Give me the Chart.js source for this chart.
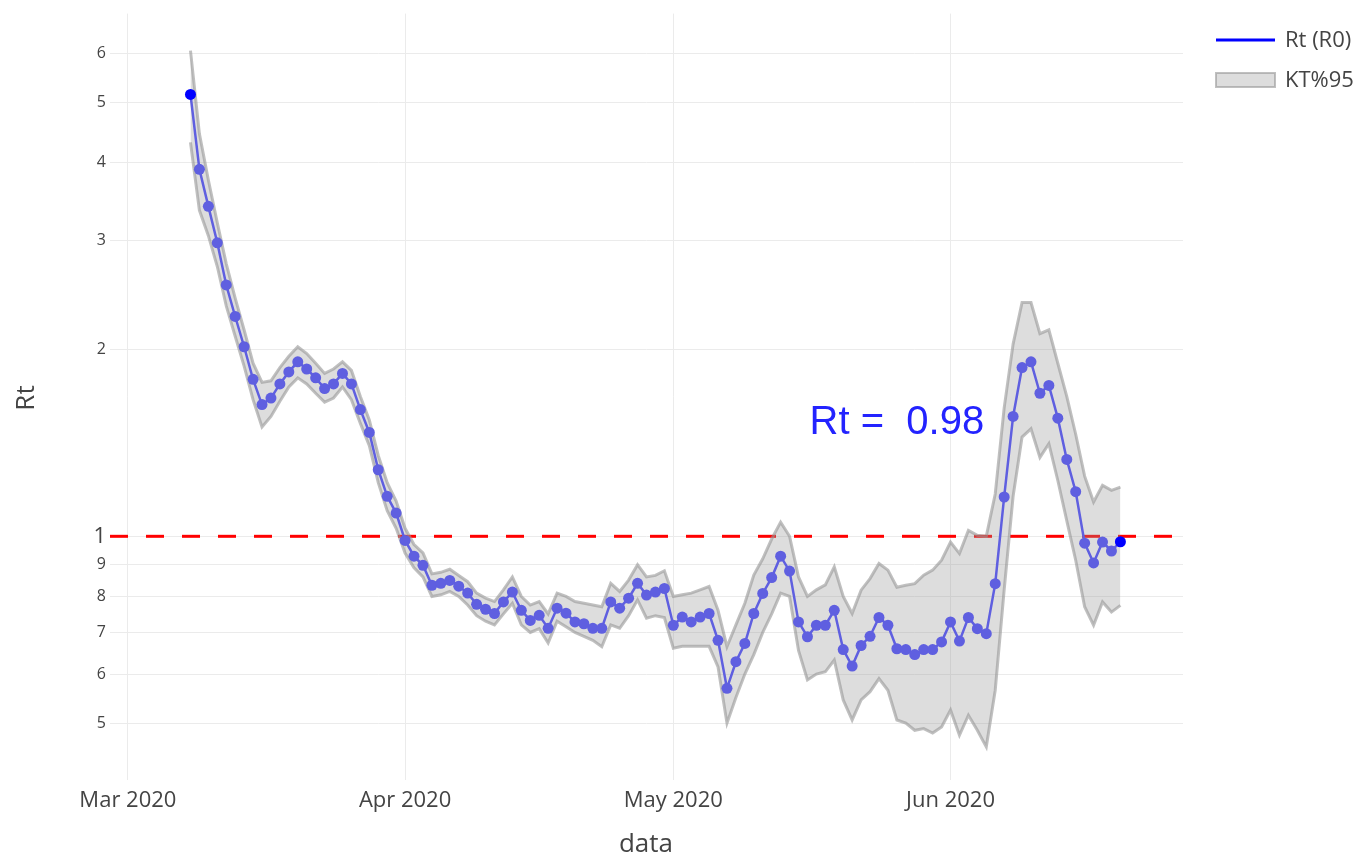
<!DOCTYPE html>
<html>
<head>
<meta charset="utf-8">
<script src="https://cdn.jsdelivr.net/npm/chart.js"></script>
<style>
  body { margin: 0; background: #fff; }
  #wrap { width: 1363px; height: 860px; }
</style>
</head>
<body>
<div id="wrap"><canvas id="rtChart" width="1363" height="860"></canvas></div>
<script>
// daily series, starting 2020-03-08
const firstDay = '2020-03-08';

const rt = [
  5.15, 3.90, 3.40, 2.97, 2.54, 2.26, 2.02, 1.79, 1.63, 1.67, 1.76, 1.84, 1.91, 1.86, 1.80, 1.73, 1.76, 1.83, 1.76, 1.60, 1.47, 1.28, 1.16, 1.09,
  0.985, 0.929, 0.898, 0.834, 0.84, 0.849, 0.831, 0.81, 0.777, 0.763, 0.751, 0.784, 0.813, 0.760, 0.732, 0.746, 0.711, 0.766, 0.752, 0.728, 0.723, 0.711, 0.711, 0.784, 0.766, 0.795, 0.840, 0.804, 0.813, 0.824,
  0.719, 0.741, 0.728, 0.741, 0.751, 0.680, 0.569, 0.628, 0.672, 0.751, 0.809, 0.858, 0.929, 0.879, 0.728, 0.689, 0.719, 0.719, 0.760, 0.657, 0.618, 0.667, 0.690, 0.740, 0.719, 0.659, 0.657, 0.645, 0.657, 0.657, 0.676,
  0.728, 0.678, 0.740, 0.710, 0.697, 0.839, 1.157, 1.56, 1.87, 1.91, 1.70, 1.75, 1.55, 1.33, 1.18, 0.975, 0.906, 0.979, 0.947, 0.98
];

const ciUpper = [
  6.06, 4.45, 3.75, 3.20, 2.75, 2.42, 2.15, 1.90, 1.77, 1.78, 1.87, 1.95, 2.02, 1.97, 1.90, 1.83, 1.86, 1.91, 1.85, 1.68, 1.54, 1.35, 1.22, 1.14,
  1.03, 0.97, 0.94, 0.87, 0.875, 0.885, 0.865, 0.845, 0.81, 0.795, 0.785, 0.82, 0.86, 0.80, 0.775, 0.785, 0.75, 0.81, 0.80, 0.785, 0.78, 0.775, 0.77, 0.84, 0.815, 0.85, 0.90, 0.86, 0.865, 0.88,
  0.80, 0.805, 0.81, 0.82, 0.83, 0.76, 0.664, 0.72, 0.78, 0.866, 0.92, 0.99, 1.054, 1.0, 0.86, 0.80, 0.82, 0.835, 0.893, 0.80, 0.751, 0.819, 0.855, 0.904, 0.882, 0.828, 0.834, 0.839, 0.866, 0.882, 0.915,
  0.979, 0.938, 1.022, 1.004, 1.0, 1.17, 1.61, 2.04, 2.38, 2.38, 2.12, 2.15, 1.90, 1.68, 1.46, 1.25, 1.136, 1.208, 1.186, 1.20
];

const ciLower = [
  4.31, 3.35, 3.05, 2.72, 2.35, 2.10, 1.88, 1.66, 1.50, 1.56, 1.65, 1.74, 1.80, 1.76, 1.70, 1.645, 1.67, 1.74, 1.66, 1.52, 1.40, 1.22, 1.10, 1.03,
  0.94, 0.89, 0.86, 0.80, 0.805, 0.815, 0.80, 0.775, 0.745, 0.73, 0.72, 0.75, 0.78, 0.72, 0.70, 0.71, 0.673, 0.73, 0.715, 0.70, 0.69, 0.68, 0.664, 0.72, 0.711, 0.745, 0.79, 0.738, 0.745, 0.74,
  0.66, 0.665, 0.665, 0.665, 0.665, 0.616, 0.50, 0.55, 0.60, 0.645, 0.70, 0.75, 0.81, 0.80, 0.655, 0.587, 0.60, 0.605, 0.632, 0.545, 0.506, 0.545, 0.562, 0.590, 0.565, 0.506, 0.50, 0.487, 0.490, 0.482, 0.493,
  0.525, 0.478, 0.515, 0.487, 0.458, 0.565, 0.82, 1.16, 1.445, 1.49, 1.34, 1.41, 1.23, 1.06, 0.915, 0.77, 0.719, 0.784, 0.755, 0.774
];

const yTicks = [0.5, 0.6, 0.7, 0.8, 0.9, 1, 2, 3, 4, 5, 6];
const monthTicks = ['2020-03-01', '2020-04-01', '2020-05-01', '2020-06-01'];
const monthNames = ['Jan', 'Feb', 'Mar', 'Apr', 'May', 'Jun', 'Jul', 'Aug', 'Sep', 'Oct', 'Nov', 'Dec'];

const xRange = ['2020-02-28', '2020-06-27'];
const yRange = [0.405, 6.95];
const threshold = 1;

const annotText = 'Rt =  0.98';
const annotAt = { x: '2020-05-26', y: 1.52 };

const DAY = 86400000;
const toMs = s => Date.parse(s + 'T00:00:00Z');
const start = toMs(firstDay);
const xMin = toMs(xRange[0]);
const xMax = toMs(xRange[1]);

const lineColor = '#5f5fe0';
const bandFill = 'rgba(150,150,150,0.32)';
const bandEdge = 'rgba(150,150,150,0.6)';
const textColor = '#444';

const pts = arr => arr.map((v, i) => ({ x: start + i * DAY, y: v }));

// axis titles, legend and the Rt label drawn by hand
const extras = {
  id: 'extras',
  afterDatasetsDraw(chart) {
    const c = chart.ctx;
    const xs = chart.scales.x, ys = chart.scales.y;
    c.save();
    c.fillStyle = 'rgb(35,35,255)';
    c.font = '40px "Liberation Sans", Arial, sans-serif';
    c.textAlign = 'center';
    c.textBaseline = 'middle';
    c.fillText(annotText, xs.getPixelForValue(toMs(annotAt.x)), ys.getPixelForValue(annotAt.y));
    c.restore();
  },
  afterDraw(chart) {
    const c = chart.ctx;
    c.save();
    c.fillStyle = textColor;
    c.font = '26px "Open Sans"';
    c.textAlign = 'center';
    c.textBaseline = 'middle';
    c.fillText('data', 646, 845);
    c.translate(27, 398);
    c.rotate(-Math.PI / 2);
    c.fillText('Rt', 0, 0);
    c.restore();

    // legend
    c.save();
    c.strokeStyle = 'blue';
    c.lineWidth = 3;
    c.beginPath();
    c.moveTo(1216, 40);
    c.lineTo(1275, 40);
    c.stroke();
    c.fillStyle = bandFill;
    c.fillRect(1216, 73, 59, 14);
    c.strokeStyle = bandEdge;
    c.lineWidth = 2;
    c.strokeRect(1216, 73, 59, 14);
    c.fillStyle = textColor;
    c.font = '22px "Open Sans"';
    c.textAlign = 'left';
    c.textBaseline = 'middle';
    c.fillText('Rt (R0)', 1285, 41);
    c.fillText('KT%95', 1285, 81);
    c.restore();
  }
};

const ctx = document.getElementById('rtChart').getContext('2d');
const rtChart = new Chart(ctx, {
  type: 'line',
  data: {
    datasets: [
      {
        label: 'Rt (R0)',
        data: pts(rt),
        borderColor: lineColor,
        borderWidth: 2.5,
        pointRadius: 5.5,
        pointBorderWidth: 0,
        pointBackgroundColor: c => (c.dataIndex === 0 || c.dataIndex === rt.length - 1) ? 'blue' : lineColor,
        tension: 0,
        fill: false,
        order: 0
      },
      {
        label: 'KT%95',
        data: pts(ciUpper),
        borderColor: bandEdge,
        borderWidth: 3,
        backgroundColor: bandFill,
        pointRadius: 0,
        tension: 0,
        fill: '+1',
        order: 1
      },
      {
        label: 'lower',
        data: pts(ciLower),
        borderColor: bandEdge,
        borderWidth: 3,
        pointRadius: 0,
        tension: 0,
        fill: false,
        order: 2
      },
      {
        label: 'threshold',
        data: [{ x: xMin, y: threshold }, { x: xMax, y: threshold }],
        borderColor: 'red',
        borderWidth: 3,
        borderDash: [18, 18],
        pointRadius: 0,
        fill: false,
        order: 3
      }
    ]
  },
  options: {
    responsive: false,
    animation: false,
    layout: { padding: { top: 13, right: 180, left: 0, bottom: 0 } },
    scales: {
      x: {
        type: 'linear',
        min: xMin,
        max: xMax,
        afterBuildTicks: s => { s.ticks = monthTicks.map(m => ({ value: toMs(m) })); },
        afterFit: s => { s.height = 80; },
        grid: { color: '#ebebeb', lineWidth: 1, drawTicks: false },
        border: { display: false },
        ticks: {
          padding: 8,
          color: textColor,
          font: { family: 'Open Sans', size: 22 },
          maxRotation: 0,
          autoSkip: false,
          callback: v => { const d = new Date(v); return monthNames[d.getUTCMonth()] + ' ' + d.getUTCFullYear(); }
        }
      },
      y: {
        type: 'logarithmic',
        min: yRange[0],
        max: yRange[1],
        afterBuildTicks: s => { s.ticks = yTicks.map(v => ({ value: v })); },
        afterFit: s => { s.width = 110; },
        grid: { color: '#ebebeb', lineWidth: 1, drawTicks: false },
        border: { display: false },
        ticks: {
          padding: 4,
          color: textColor,
          autoSkip: false,
          font: c => ({ family: 'Open Sans', size: (c.tick && c.tick.value === 1) ? 22 : 16 }),
          callback: v => v < 1 ? String(Math.round(v * 10)) : String(v)
        }
      }
    },
    plugins: {
      legend: { display: false },
      tooltip: { enabled: false }
    }
  },
  plugins: [extras]
});
</script>
</body>
</html>
